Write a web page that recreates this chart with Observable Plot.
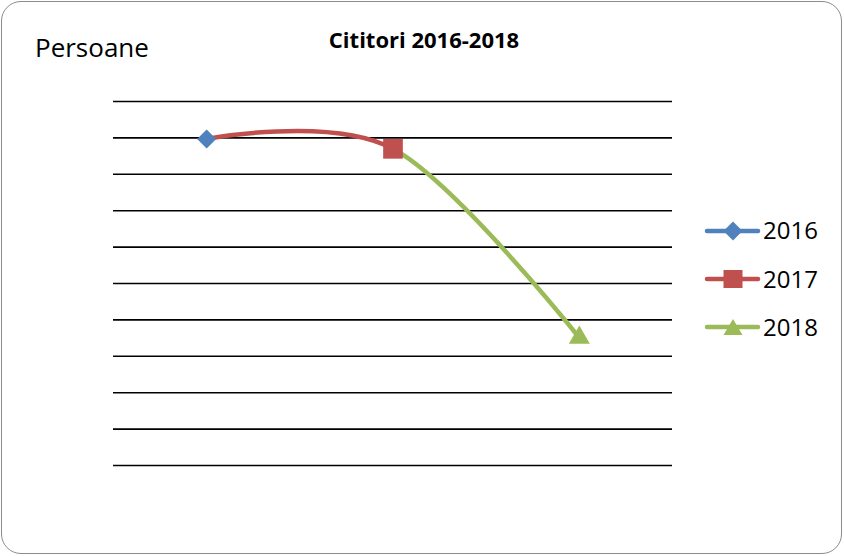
<!DOCTYPE html>
<html>
<head>
<meta charset="utf-8">
<script src="https://cdn.jsdelivr.net/npm/d3@7"></script>
<script src="https://cdn.jsdelivr.net/npm/@observablehq/plot@0.6"></script>
<style>
  html, body { margin: 0; padding: 0; background: #fff; }
  #wrap { position: relative; width: 844px; height: 556px; font-family: "Open Sans", sans-serif; color: #000; }
  #frame { position: absolute; left: 1px; top: 1px; width: 841px; height: 553px; border: 1.5px solid #8c8c8c; border-radius: 20px; box-sizing: border-box; }
  .txt { position: absolute; white-space: nowrap; line-height: normal; }
  #title { left: 0; width: 848px; top: 24px; text-align: center; font-weight: 700; font-size: 22px; }
  #ylab { left: 35px; top: 29px; font-size: 26px; }
  .lgsvg { position: absolute; left: 700px; }
  .lgtxt { position: absolute; left: 763px; font-size: 24px; white-space: nowrap; line-height: normal; }
  #chart { position: absolute; left: 0; top: 0; }
</style>
</head>
<body>
<div id="wrap">
  <div id="frame"></div>
  <div id="chart"></div>
  <div id="title" class="txt"></div>
  <div id="ylab" class="txt"></div>
  <div id="legend"></div>
</div>
<script>
// ---- data ----
const title = "Cititori 2016-2018";
const yLabel = "Persoane";
const years = [2016, 2017, 2018];
const values = [897, 870, 351];
const seriesNames = ["2016", "2017", "2018"];
const seriesColors = ["#4F81BD", "#C0504D", "#9BBB59"];
const seriesSymbols = ["diamond2", "square", "triangle"];
const gridTicks = [0, 100, 200, 300, 400, 500, 600, 700, 800, 900, 1000];

const points = years.map((y, i) => ({year: y, value: values[i], series: seriesNames[i]}));

// curve that renders only segments [from, to) of a smooth cardinal (tension 0) curve through all points
function partialCurve(from, to) {
  return function(context) {
    let seg = 0, lx = 0, ly = 0, started = false;
    const proxy = {
      moveTo(x, y) { lx = x; ly = y; seg = 0; started = false; },
      lineTo(x, y) {
        if (seg >= from && seg < to) { if (!started) { context.moveTo(lx, ly); started = true; } context.lineTo(x, y); }
        lx = x; ly = y; seg++;
      },
      bezierCurveTo(a, b, c, d, x, y) {
        if (seg >= from && seg < to) { if (!started) { context.moveTo(lx, ly); started = true; } context.bezierCurveTo(a, b, c, d, x, y); }
        lx = x; ly = y; seg++;
      },
      closePath() {}
    };
    return d3.curveCardinal.tension(0)(proxy);
  };
}

const markerR = [8.6, 11.1, 7.8];

const chart = Plot.plot({
  width: 844,
  height: 556,
  marginLeft: 113,
  marginRight: 172,
  marginTop: 101,
  marginBottom: 91,
  x: {type: "linear", domain: [2015.5, 2018.5], axis: null},
  y: {domain: [0, 1000], axis: null},
  style: {background: "transparent"},
  marks: [
    Plot.ruleY(gridTicks, {stroke: "#000", strokeWidth: 1.6}),
    Plot.line(points, {x: "year", y: "value", stroke: seriesColors[1], strokeWidth: 4.5, curve: partialCurve(0, 1)}),
    Plot.line(points, {x: "year", y: "value", stroke: seriesColors[2], strokeWidth: 4.5, curve: partialCurve(1, 2)}),
    ...points.map((p, i) => Plot.dot([p], {x: "year", y: "value", symbol: seriesSymbols[i], fill: seriesColors[i], r: markerR[i], stroke: "none"}))
  ]
});
document.getElementById("chart").appendChild(chart);

document.getElementById("title").textContent = title;
document.getElementById("ylab").textContent = yLabel;

const legend = document.getElementById("legend");
const legendCenters = [230.5, 279, 327];
const shapes = [
  c => `<path d="M33,4.5 L42.5,14 L33,23.5 L23.5,14 Z" fill="${c}"/>`,
  c => `<rect x="23.5" y="5" width="19" height="18" fill="${c}"/>`,
  c => `<path d="M33,6 L42.5,22 L23.5,22 Z" fill="${c}"/>`
];
seriesNames.forEach((name, i) => {
  const svg = document.createElement("div");
  svg.className = "lgsvg";
  svg.style.top = (legendCenters[i] - 14) + "px";
  svg.innerHTML = `<svg width="64" height="28" viewBox="0 0 64 28"><line x1="7" x2="58" y1="14" y2="14" stroke="${seriesColors[i]}" stroke-width="4.5" stroke-linecap="round"/>${shapes[i](seriesColors[i])}</svg>`;
  legend.appendChild(svg);
  const t = document.createElement("div");
  t.className = "lgtxt";
  t.style.top = (legendCenters[i] + 8.5 - 25.7) + "px";
  t.textContent = name;
  legend.appendChild(t);
});
</script>
</body>
</html>
